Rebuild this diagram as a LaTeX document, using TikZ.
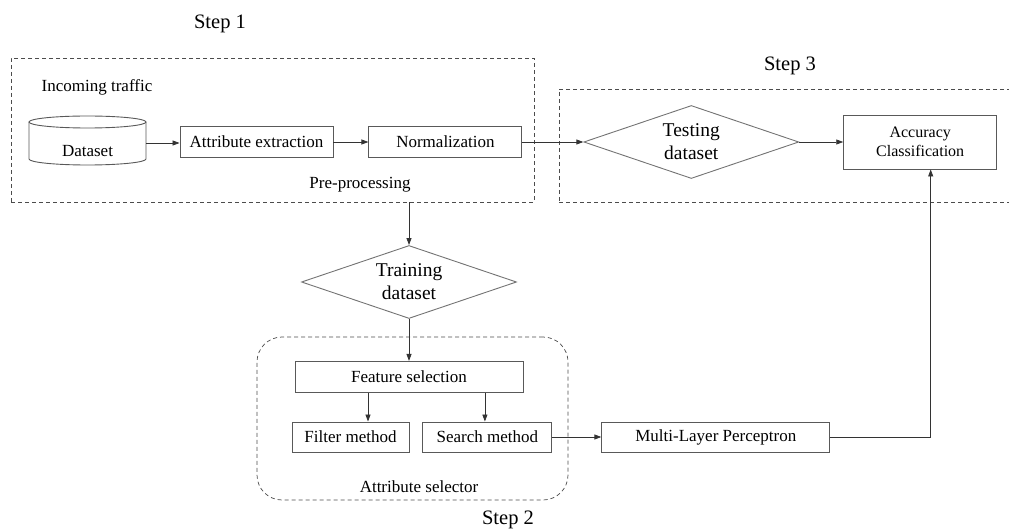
\documentclass[tikz,border=0pt]{standalone}
\usepackage{fontspec}
\setmainfont{Liberation Serif}
\usetikzlibrary{positioning,arrows.meta,shapes.geometric,fit}

\begin{document}
\begin{tikzpicture}[x=1pt, y=-1pt,
  font=\rmfamily\fontsize{17}{20}\selectfont,
  box/.style={draw=black!65, line width=0.9pt, minimum height=31pt, inner sep=2pt, align=center},
  cyl/.style={draw=black!65, line width=0.9pt},
  decide/.style={draw=black!55, line width=0.9pt, diamond, aspect=3, inner sep=0pt, minimum width=215pt, minimum height=73pt, align=center, font=\rmfamily\fontsize{19.5}{23}\selectfont},
  frame/.style={draw=black!70, line width=0.7pt, dash pattern=on 4pt off 3pt, inner sep=0pt},
  steplab/.style={font=\rmfamily\fontsize{20.5}{24}\selectfont},
  arr/.style={-{Triangle[length=7pt,width=5pt]}, line width=0.8pt, black!80},
  node distance=34pt]
\useasboundingbox (0,0) rectangle (1009,529);
% step 1: pre-processing
\draw[cyl] (87.5,122) ellipse[x radius=58.5, y radius=6];
\draw[cyl] (29,122) -- (29,159) arc[start angle=180, end angle=0, x radius=58.5, y radius=6] -- (146,122);
\node (db) at (87.5,151) {Dataset};
\coordinate (dbR) at (146,143);
\node[box, minimum width=153pt] (attr) at (256.5,142) {Attribute extraction};
\node[box, minimum width=153pt, right=35pt of attr] (norm) {Normalization};
\node (incoming) at (97,87) {Incoming traffic};
\node (prep) at (360,185) {Pre-processing};
\node[frame, fit={(11,58) (534,202)}] (stepA) {};
\node[steplab] (lab1) at (220,24) {Step 1};
% step 3: testing
\node[decide, right=61pt of norm] (test) {Testing\\dataset};
\node[box, minimum width=153pt, minimum height=54pt, right=44pt of test, font=\rmfamily\fontsize{16}{19}\selectfont] (acc) {Accuracy\\Classification};
\node[frame, fit={(559,89) (1012,202)}] (stepC) {};
\node[steplab] (lab3) at (790,66) {Step 3};
% step 2: training
\node[decide] (train) at (409,282) {Training\\dataset};
\node[box, minimum width=228pt, below=42pt of train] (feat) {Feature selection};
\node[box, minimum width=117pt, minimum height=30pt] (filt) at (350.5,437) {Filter method};
\node[box, minimum width=129pt, minimum height=30pt, right=13pt of filt] (srch) {Search method};
\node[box, minimum width=228pt, minimum height=30pt, right=49pt of srch] (mlp) {Multi-Layer Perceptron};
\node (asel) at (419,487) {Attribute selector};
\node[frame, rounded corners=25pt, fit={(257,337) (568,500)}] (stepB) {};
\node[steplab] (lab2) at (508,520) {Step 2};
% connectors
\draw[arr] (dbR) -- (dbR -| attr.west);
\draw[arr] (attr) -- (norm);
\draw[arr] (norm) -- (test);
\draw[arr] (test) -- (acc);
\draw[arr] (stepA.south -| train.north) -- (train.north);
\draw[arr] (train) -- (feat);
\draw[arr] ([xshift=17.5pt]filt.north |- feat.south) -- ([xshift=17.5pt]filt.north);
\draw[arr] ([xshift=-2.5pt]srch.north |- feat.south) -- ([xshift=-2.5pt]srch.north);
\draw[arr] (srch) -- (mlp);
\draw[arr] (mlp.east) -| ([xshift=10.5pt]acc.south);
\end{tikzpicture}
\end{document}
